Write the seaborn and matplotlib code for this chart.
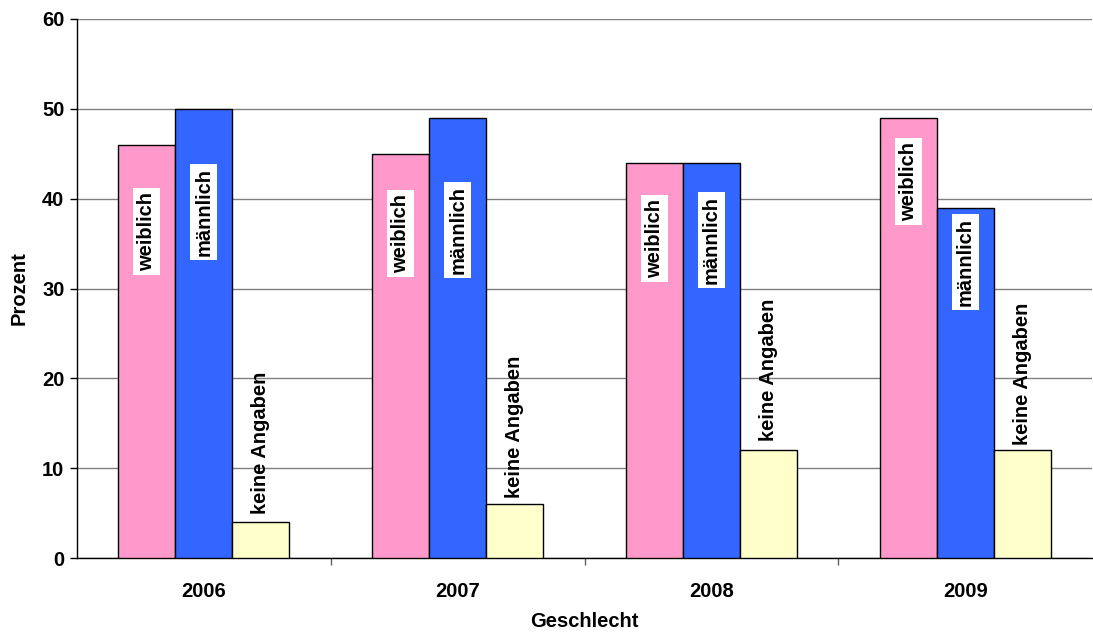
import matplotlib
matplotlib.use("Agg")
import matplotlib.pyplot as plt
import pandas as pd
import seaborn as sns

# --- data ---
years = ["2006", "2007", "2008", "2009"]
groups = ["weiblich", "männlich", "keine Angaben"]
weiblich = [46, 45, 44, 49]
maennlich = [50, 49, 44, 39]
keine_angaben = [4, 6, 12, 12]

# label centres (data units) as placed in the original chart
label_centers = {
    "weiblich": [36.3, 36.1, 35.6, 41.9],
    "männlich": [38.5, 36.5, 35.4, 32.9],
    "keine Angaben": [12.8, 14.6, 21.0, 20.5],
}

colors = {"weiblich": "#FF99CC", "männlich": "#3366FF", "keine Angaben": "#FFFFCC"}

df = pd.DataFrame({
    "Jahr": years * 3,
    "Gruppe": [g for g in groups for _ in years],
    "Prozent": weiblich + maennlich + keine_angaben,
})

sns.set_style("white")
plt.rcParams["font.family"] = ["Liberation Sans", "DejaVu Sans"]
plt.rcParams["font.weight"] = "bold"
plt.rcParams["text.color"] = "black"
plt.rcParams["axes.labelcolor"] = "black"
plt.rcParams["xtick.color"] = "black"
plt.rcParams["ytick.color"] = "black"

fig = plt.figure(figsize=(10.93, 6.32), dpi=100)
ax = fig.add_axes([0.0704, 0.117, 0.929, 0.853])

sns.barplot(data=df, x="Jahr", y="Prozent", hue="Gruppe", order=years,
            hue_order=groups, palette=colors, width=0.673, edgecolor="black",
            linewidth=1.0, saturation=1, legend=False, ax=ax, zorder=3)

# data labels
for container, grp in zip(ax.containers, groups):
    for bar, yc in zip(container, label_centers[grp]):
        xc = bar.get_x() + bar.get_width() / 2
        box = None
        if grp != "keine Angaben":
            box = dict(boxstyle="square,pad=0.2", facecolor="white", edgecolor="none")
        ax.text(xc, yc, grp, rotation=90, ha="center", va="center", color="black",
                fontsize=14.5, fontweight="bold", bbox=box, zorder=5)

ax.set_ylim(0, 60)
ax.set_xlim(-0.5, 3.5)
ax.set_yticks(range(0, 61, 10))
ax.yaxis.grid(True, color="#808080", linewidth=1.0, zorder=0)
ax.set_axisbelow(True)

ax.tick_params(axis="y", which="major", direction="out", length=5, width=1,
               color="black", labelsize=14.5, labelcolor="black", pad=4, left=True)
ax.tick_params(axis="x", which="major", length=0, labelsize=14.5,
               labelcolor="black", pad=17)
ax.set_xticks([0.5, 1.5, 2.5], minor=True)
ax.tick_params(axis="x", which="minor", direction="out", length=5, width=1,
               color="#606060", bottom=True)

for lbl in ax.get_xticklabels() + ax.get_yticklabels():
    lbl.set_fontweight("bold")

ax.set_xlabel("Geschlecht", fontsize=14.5, fontweight="bold", color="black", labelpad=8)
ax.set_ylabel("Prozent", fontsize=14.5, fontweight="bold", color="black", labelpad=10)

for side in ["top", "right"]:
    ax.spines[side].set_visible(False)
ax.spines["left"].set_color("black")
ax.spines["bottom"].set_color("black")
ax.spines["left"].set_linewidth(1)
ax.spines["bottom"].set_linewidth(1)

fig.savefig("out.png", dpi=100)
